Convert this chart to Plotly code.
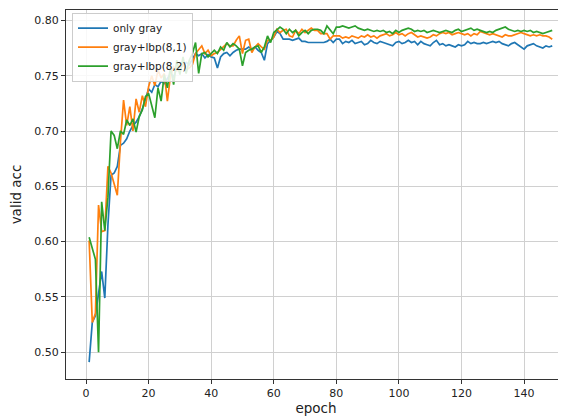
import plotly.graph_objects as go

epochs = list(range(1, 150))

only_gray = [
    0.491, 0.527, 0.533, 0.552, 0.573, 0.549, 0.615, 0.660, 0.662, 0.668,
    0.687, 0.689, 0.693, 0.700, 0.705, 0.708, 0.713, 0.720, 0.729, 0.738,
    0.735, 0.742, 0.740, 0.745, 0.743, 0.748, 0.752, 0.749, 0.757, 0.758,
    0.759, 0.762, 0.760, 0.765, 0.770, 0.768, 0.770, 0.766, 0.769, 0.767,
    0.766, 0.757, 0.767, 0.770, 0.771, 0.768, 0.771, 0.773, 0.774, 0.774,
    0.774, 0.776, 0.774, 0.776, 0.773, 0.771, 0.764, 0.779, 0.782, 0.785,
    0.790, 0.788, 0.783, 0.783, 0.783, 0.782, 0.783, 0.784, 0.781, 0.781,
    0.780, 0.780, 0.780, 0.780, 0.780, 0.780, 0.781, 0.783, 0.780, 0.783,
    0.783, 0.779, 0.781, 0.780, 0.782, 0.779, 0.780, 0.781, 0.778, 0.779,
    0.782, 0.780, 0.779, 0.781, 0.780, 0.779, 0.778, 0.777, 0.780, 0.781,
    0.779, 0.780, 0.782, 0.780, 0.781, 0.778, 0.781, 0.779, 0.778, 0.777,
    0.780, 0.782, 0.778, 0.779, 0.777, 0.778, 0.777, 0.776, 0.778, 0.777,
    0.778, 0.781, 0.779, 0.780, 0.779, 0.779, 0.780, 0.779, 0.780, 0.781,
    0.780, 0.781, 0.779, 0.778, 0.777, 0.779, 0.780, 0.778, 0.776, 0.774,
    0.777, 0.778, 0.779, 0.777, 0.776, 0.775, 0.777, 0.776, 0.777,
]

gray_lbp81 = [
    0.601, 0.527, 0.535, 0.633, 0.609, 0.610, 0.668, 0.662, 0.652, 0.642,
    0.690, 0.728, 0.705, 0.722, 0.700, 0.729, 0.717, 0.732, 0.722, 0.740,
    0.750, 0.741, 0.755, 0.748, 0.752, 0.727, 0.750, 0.758, 0.755, 0.754,
    0.761, 0.755, 0.757, 0.760, 0.770, 0.774, 0.777, 0.770, 0.773, 0.768,
    0.770, 0.771, 0.774, 0.776, 0.779, 0.777, 0.777, 0.782, 0.786, 0.770,
    0.782, 0.783, 0.771, 0.776, 0.779, 0.776, 0.774, 0.782, 0.782, 0.785,
    0.792, 0.789, 0.791, 0.792, 0.786, 0.785, 0.791, 0.788, 0.792, 0.789,
    0.791, 0.793, 0.791, 0.791, 0.788, 0.788, 0.788, 0.783, 0.786, 0.786,
    0.786, 0.784, 0.785, 0.784, 0.786, 0.785, 0.784, 0.786, 0.785, 0.787,
    0.785, 0.786, 0.784, 0.786, 0.787, 0.788, 0.786, 0.787, 0.789, 0.787,
    0.788, 0.786, 0.788, 0.789, 0.787, 0.785, 0.786, 0.785, 0.784, 0.785,
    0.787, 0.786, 0.788, 0.789, 0.788, 0.789, 0.787, 0.788, 0.789, 0.788,
    0.787, 0.788, 0.786, 0.788, 0.787, 0.790, 0.789, 0.788, 0.787, 0.788,
    0.787, 0.786, 0.785, 0.787, 0.786, 0.786, 0.787, 0.788, 0.789, 0.788,
    0.787, 0.786, 0.787, 0.786, 0.787, 0.786, 0.786, 0.785, 0.783,
]

gray_lbp82 = [
    0.604, 0.594, 0.584, 0.500, 0.636, 0.610, 0.640, 0.700, 0.696, 0.684,
    0.700, 0.697, 0.710, 0.705, 0.711, 0.699, 0.713, 0.719, 0.731, 0.734,
    0.722, 0.712, 0.739, 0.727, 0.751, 0.739, 0.758, 0.742, 0.764, 0.751,
    0.767, 0.752, 0.764, 0.770, 0.780, 0.752, 0.770, 0.771, 0.767, 0.770,
    0.773, 0.770, 0.776, 0.773, 0.780, 0.776, 0.779, 0.777, 0.774, 0.759,
    0.771, 0.773, 0.774, 0.776, 0.777, 0.771, 0.776, 0.786, 0.780, 0.789,
    0.792, 0.794, 0.792, 0.788, 0.792, 0.789, 0.791, 0.786, 0.789, 0.791,
    0.788, 0.791, 0.792, 0.792, 0.791, 0.788, 0.795, 0.791, 0.788, 0.794,
    0.794, 0.795, 0.794, 0.793, 0.794, 0.795, 0.793, 0.792, 0.791, 0.792,
    0.791, 0.790, 0.791, 0.790, 0.791, 0.789, 0.790, 0.788, 0.791, 0.789,
    0.791, 0.792, 0.793, 0.792, 0.790, 0.791, 0.790, 0.791, 0.789, 0.790,
    0.791, 0.790, 0.789, 0.790, 0.791, 0.790, 0.789, 0.791, 0.792, 0.790,
    0.791, 0.792, 0.793, 0.791, 0.792, 0.791, 0.790, 0.789, 0.790, 0.789,
    0.791, 0.792, 0.793, 0.794, 0.792, 0.791, 0.790, 0.791, 0.790, 0.791,
    0.790, 0.791, 0.789, 0.790, 0.789, 0.788, 0.789, 0.790, 0.791,
]

series = [
    ("only gray", only_gray, "#1f77b4"),
    ("gray+lbp(8,1)", gray_lbp81, "#ff7f0e"),
    ("gray+lbp(8,2)", gray_lbp82, "#2ca02c"),
]

y_ticks = [0.50, 0.55, 0.60, 0.65, 0.70, 0.75, 0.80]
x_ticks = [0, 20, 40, 60, 80, 100, 120, 140]

fig = go.Figure()
for name, vals, color in series:
    fig.add_trace(go.Scatter(x=epochs, y=vals, mode="lines", name=name,
                             line=dict(color=color, width=1.7)))

font = "DejaVu Sans, sans-serif"
fig.update_layout(
    width=558, height=409,
    margin=dict(l=58, r=0, t=2, b=38, autoexpand=False),
    paper_bgcolor="white", plot_bgcolor="white",
    font=dict(family=font, size=11, color="#222"),
    showlegend=True,
    legend=dict(x=0.012, y=0.993, xanchor="left", yanchor="top",
                bgcolor="rgba(255,255,255,0.85)", bordercolor="#cccccc",
                borderwidth=1, font=dict(family=font, size=10.5, color="#222"),
                tracegroupgap=0, itemwidth=30),
    xaxis=dict(range=[-6.4, 153.4], tickvals=x_ticks,
               showgrid=True, gridcolor="#d0d0d0", gridwidth=1,
               showline=True, linecolor="#333", linewidth=1, mirror=True,
               ticks="outside", ticklen=4, tickcolor="#333",
               zeroline=False, automargin=False,
               title=dict(text="epoch", font=dict(family=font, size=13.5, color="#222"),
                          standoff=4)),
    yaxis=dict(range=[0.4758, 0.8094], tickvals=y_ticks, tickformat=".2f",
               showgrid=True, gridcolor="#d0d0d0", gridwidth=1,
               showline=True, linecolor="#333", linewidth=1,
               ticks="outside", ticklen=4, tickcolor="#333",
               zeroline=False, automargin=False,
               title=dict(text="valid acc", font=dict(family=font, size=13.5, color="#222"),
                          standoff=9)),
)

fig.write_html("out.html")
